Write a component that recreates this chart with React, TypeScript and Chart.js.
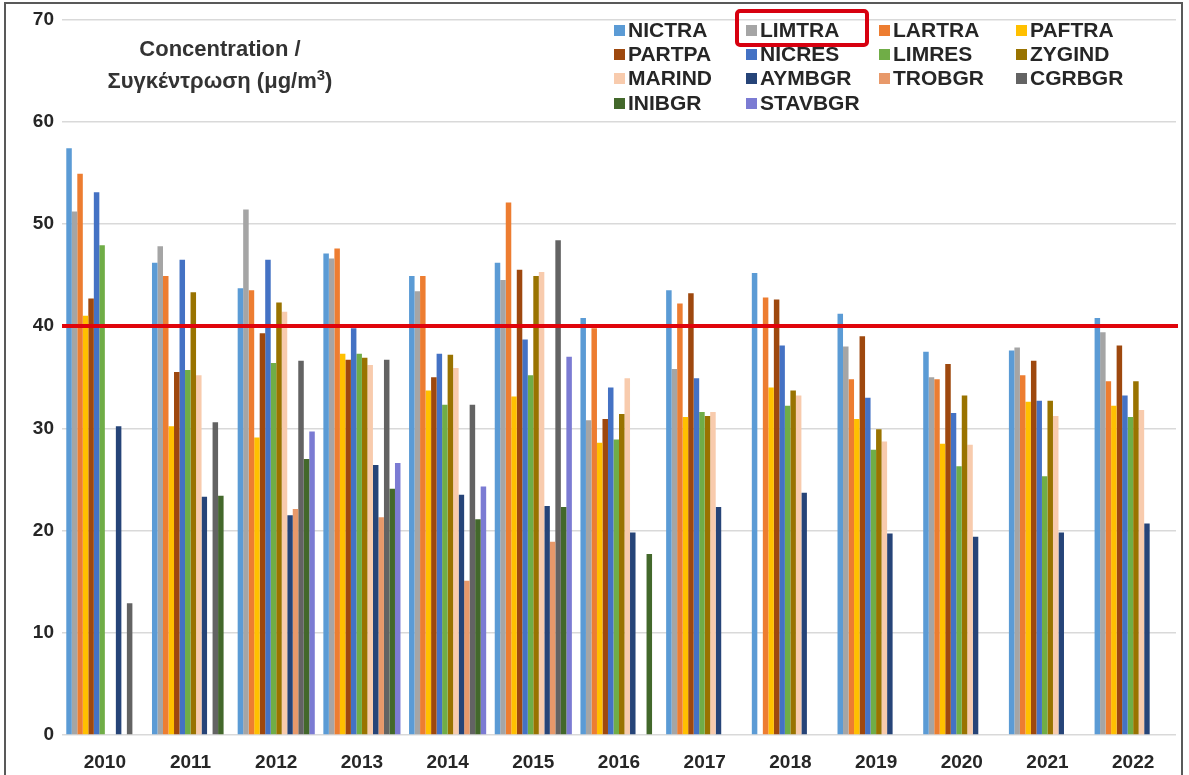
import React, { useEffect, useRef } from "react";
import { Chart, registerables } from "chart.js";

Chart.register(...registerables);

const years = ["2010", "2011", "2012", "2013", "2014", "2015", "2016", "2017", "2018", "2019", "2020", "2021", "2022"];

const NICTRA = [57.4, 46.2, 43.7, 47.1, 44.9, 46.2, 40.8, 43.5, 45.2, 41.2, 37.5, 37.6, 40.8];
const LIMTRA = [51.2, 47.8, 51.4, 46.6, 43.4, 44.5, 30.8, 35.8, null, 38.0, 35.0, 37.9, 39.4];
const LARTRA = [54.9, 44.9, 43.5, 47.6, 44.9, 52.1, 39.8, 42.2, 42.8, 34.8, 34.8, 35.2, 34.6];
const PAFTRA = [41.0, 30.2, 29.1, 37.3, 33.7, 33.1, 28.6, 31.1, 34.0, 30.9, 28.5, 32.6, 32.2];
const PARTPA = [42.7, 35.5, 39.3, 36.7, 35.0, 45.5, 30.9, 43.2, 42.6, 39.0, 36.3, 36.6, 38.1];
const NICRES = [53.1, 46.5, 46.5, 39.8, 37.3, 38.7, 34.0, 34.9, 38.1, 33.0, 31.5, 32.7, 33.2];
const LIMRES = [47.9, 35.7, 36.4, 37.3, 32.3, 35.2, 28.9, 31.6, 32.2, 27.9, 26.3, 25.3, 31.1];
const ZYGIND = [null, 43.3, 42.3, 36.9, 37.2, 44.9, 31.4, 31.2, 33.7, 29.9, 33.2, 32.7, 34.6];
const MARIND = [null, 35.2, 41.4, 36.2, 35.9, 45.3, 34.9, 31.6, 33.2, 28.7, 28.4, 31.2, 31.8];
const AYMBGR = [30.2, 23.3, 21.5, 26.4, 23.5, 22.4, 19.8, 22.3, 23.7, 19.7, 19.4, 19.8, 20.7];
const TROBGR = [null, null, 22.1, 21.3, 15.1, 18.9, null, null, null, null, null, null, null];
const CGRBGR = [12.9, 30.6, 36.6, 36.7, 32.3, 48.4, null, null, null, null, null, null, null];
const INIBGR = [null, 23.4, 27.0, 24.1, 21.1, 22.3, 17.7, null, null, null, null, null, null];
const STAVBGR = [null, null, 29.7, 26.6, 24.3, 37.0, null, null, null, null, null, null, null];

const seriesNames = ["NICTRA", "LIMTRA", "LARTRA", "PAFTRA", "PARTPA", "NICRES", "LIMRES", "ZYGIND", "MARIND", "AYMBGR", "TROBGR", "CGRBGR", "INIBGR", "STAVBGR"];
const seriesValues = [NICTRA, LIMTRA, LARTRA, PAFTRA, PARTPA, NICRES, LIMRES, ZYGIND, MARIND, AYMBGR, TROBGR, CGRBGR, INIBGR, STAVBGR];
const seriesColors = ["#5B9BD5", "#A5A5A5", "#ED7D31", "#FFC000", "#9E480E", "#4472C4", "#70AD47", "#997300", "#F8CBAD", "#264478", "#E8996A", "#636363", "#43682B", "#7B7BD3"];

const limitValue = 40;
const yMin = 0;
const yMax = 70;
const yStep = 10;

const titleLines = ["Concentration /", "Συγκέντρωση (μg/m"];

const FONT = "'Liberation Sans', Arial, sans-serif";

const limitLinePlugin = {
  id: "limitLine",
  afterDatasetsDraw(chart: any) {
    const { ctx, chartArea, scales } = chart;
    const y = scales.y.getPixelForValue(limitValue);
    ctx.save();
    ctx.strokeStyle = "#E0040B";
    ctx.lineWidth = 4;
    ctx.beginPath();
    ctx.moveTo(chartArea.left, y);
    ctx.lineTo(chartArea.right + 2, y);
    ctx.stroke();
    ctx.restore();
  },
};

export default function App() {
  const canvasRef = useRef<HTMLCanvasElement | null>(null);

  useEffect(() => {
    document.body.style.margin = "0";
    const canvas = canvasRef.current;
    if (!canvas) return;
    const chart = new Chart(canvas, {
      type: "bar",
      data: {
        labels: years,
        datasets: seriesNames.map((name, i) => ({
          label: name,
          data: seriesValues[i],
          backgroundColor: seriesColors[i],
          borderWidth: 0,
          categoryPercentage: 0.9,
          barPercentage: 1.0,
        })),
      },
      options: {
        animation: false,
        responsive: false,
        maintainAspectRatio: false,
        layout: { padding: { left: 0, right: 13, top: 17, bottom: 0 } },
        plugins: {
          legend: { display: false },
          tooltip: { enabled: false },
          title: { display: false },
        },
        scales: {
          x: {
            grid: { display: false, drawTicks: false },
            border: { display: false },
            ticks: {
              color: "#262626",
              font: { family: FONT, size: 19, weight: "bold" },
              padding: 16,
              maxRotation: 0,
            },
            afterFit(scale: any) {
              scale.height = 40;
            },
          },
          y: {
            min: yMin,
            max: yMax,
            grid: { color: "#D9D9D9", lineWidth: 1.5, drawTicks: false },
            border: { display: false },
            ticks: {
              stepSize: yStep,
              color: "#262626",
              font: { family: FONT, size: 19, weight: "bold" },
              padding: 8,
            },
            afterFit(scale: any) {
              scale.width = 62;
            },
          },
        },
      },
      plugins: [limitLinePlugin],
    });
    return () => chart.destroy();
  }, []);

  const legendCols = [614, 746, 879, 1016];
  const legendRows = [30, 54, 78, 103];

  return (
    <div style={{ position: "absolute", left: 0, top: 0, width: 1189, height: 775, background: "#fff", overflow: "hidden" }}>
      <canvas ref={canvasRef} width={1189} height={775} style={{ position: "absolute", left: 0, top: 0, width: 1189, height: 775 }} />
      <div style={{ position: "absolute", left: 4, top: 2, width: 1179, height: 800, border: "2px solid #595959", boxSizing: "border-box", pointerEvents: "none" }} />
      <div style={{ position: "absolute", left: 70, top: 33, width: 300, textAlign: "center", fontFamily: FONT, fontWeight: "bold", fontSize: 22, lineHeight: "32px", color: "#333" }}>
        <div>{titleLines[0]}</div>
        <div>{titleLines[1]}<sup style={{ fontSize: 15, lineHeight: 0 }}>3</sup>)</div>
      </div>
      {seriesNames.map((name, i) => {
        const col = i % 4;
        const row = Math.floor(i / 4);
        return (
          <div key={name} style={{ position: "absolute", left: legendCols[col], top: legendRows[row] - 12, height: 24, display: "flex", alignItems: "center", fontFamily: FONT, fontWeight: "bold", fontSize: 21, color: "#262626", whiteSpace: "nowrap" }}>
            <span style={{ display: "inline-block", width: 11, height: 11, background: seriesColors[i], marginRight: 3 }} />
            <span>{name}</span>
          </div>
        );
      })}
      <div style={{ position: "absolute", left: legendCols[1] - 11, top: 9, width: 134, height: 38, border: "4px solid #D7000F", borderRadius: 5, boxSizing: "border-box", pointerEvents: "none" }} />
    </div>
  );
}
